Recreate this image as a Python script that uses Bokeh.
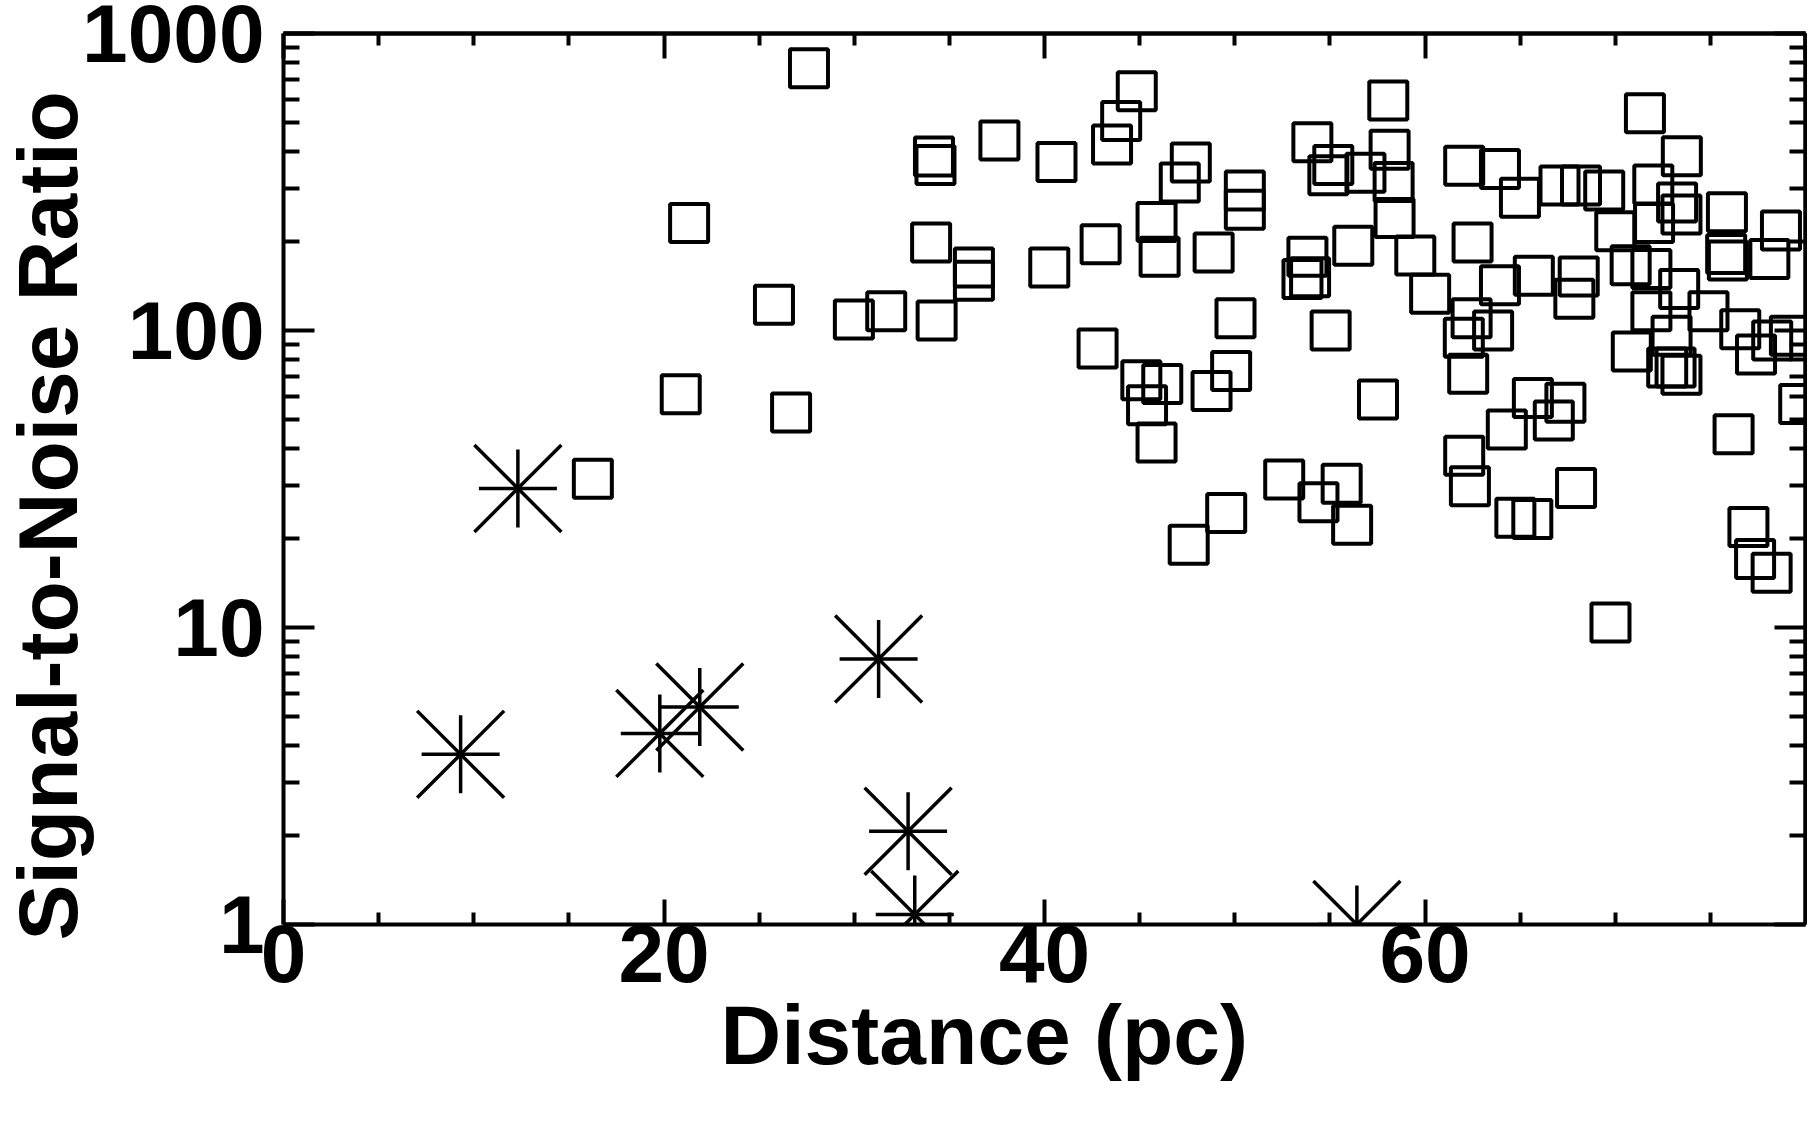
import numpy as np
from bokeh.plotting import figure
from bokeh.models import FixedTicker, LinearAxis, LogAxis, Range1d, Title, NumeralTickFormatter
from bokeh.embed import file_html
from bokeh.resources import INLINE

# ---------------- data ----------------
# detections (open squares): distance (pc), signal-to-noise ratio
sq_dist = [27.62, 21.32, 34.19, 34.27, 37.63, 40.63, 44.85, 44.03, 43.55, 47.69,
           47.11, 45.89, 46.05, 48.89, 34.04, 36.29, 36.29, 40.25, 42.95, 25.78,
           29.98, 31.68, 34.33, 42.79, 45.09, 46.19, 45.39, 45.89, 48.78, 20.88,
           26.68, 16.26, 47.58,
           58.07, 54.08, 58.14, 54.92, 55.18, 56.87, 58.35, 58.40, 50.53, 50.53,
           56.23, 53.82, 53.56, 53.96, 59.49, 60.27, 62.06, 63.94, 64.99, 62.50,
           62.27, 62.04, 62.45, 63.58, 63.94, 50.04, 49.81, 55.04, 57.53, 62.06,
           62.36, 64.30, 52.60, 55.62, 54.40, 56.17, 49.55,
           71.56, 73.50, 67.07, 68.20, 69.42, 70.00, 72.00, 73.25, 73.48, 72.04,
           75.87, 75.83, 75.92, 78.71, 78.10, 70.81, 71.90, 73.36, 71.90, 74.90,
           72.96, 70.87, 72.73, 73.17, 73.48, 76.57, 77.40, 78.25, 79.18, 79.67,
           76.22, 65.67, 67.38, 66.77, 64.75, 65.64, 67.94, 77.00, 77.35, 78.22,
           69.75, 65.72, 67.85, 68.08]
sq_snr = [764, 230, 385, 361, 436, 369, 639, 507, 423, 368,
          315, 232, 177, 183, 198, 163, 147, 163, 195, 122,
          109, 116, 108, 87, 68, 66, 56, 42, 62.5, 61,
          53, 31.7, 19.0,
          595, 430, 406, 333, 361, 340, 316, 239, 296, 255,
          193, 177, 149, 151, 179, 133, 359, 350, 280, 198,
          71.5, 94.5, 110, 100, 142, 110, 73, 100, 58.6, 37.9,
          29.9, 46.4, 31.5, 30.5, 26.4, 22.2, 24.3,
          539, 386, 308, 308, 296, 216, 310, 270, 246, 230,
          250, 181, 172, 217, 174, 166, 161, 138, 116, 116,
          96, 85, 75, 75, 71, 101, 83, 92.5, 96, 56.6,
          44.7, 59.3, 57.1, 49.8, 23.4, 23.2, 29.5, 21.8, 17.0, 15.3,
          10.4, 153, 128, 152]

# asterisks
ast_dist = [9.31, 12.32, 19.78, 21.88, 31.28, 32.83, 33.18, 56.42]
ast_snr = [3.74, 29.4, 4.40, 5.40, 7.83, 2.06, 1.08, 1.00]

x_major = [0, 20, 40, 60]
x_minor = [5, 10, 15, 25, 30, 35, 45, 50, 55, 65, 70, 75]
y_major = [1, 10, 100, 1000]
y_minor = [m * d for d in (1, 10, 100) for m in range(2, 10)]

x_title = "Distance (pc)"
y_title = "Signal-to-Noise Ratio"

FONT = "Liberation Sans"

p = figure(width=1807, height=1109,
           x_range=Range1d(0, 80), y_range=Range1d(1, 1000),
           y_axis_type="log",
           output_backend="svg", toolbar_location=None,
           min_border_left=283, min_border_top=33,
           min_border_right=2, min_border_bottom=185)
p.background_fill_color = "white"
p.border_fill_color = "white"
p.outline_line_color = None
p.grid.visible = False


def style_axis(ax, major_in, minor_in):
    ax.axis_line_color = "black"
    ax.axis_line_width = 4
    ax.major_tick_line_color = "black"
    ax.minor_tick_line_color = "black"
    ax.major_tick_line_width = 4
    ax.minor_tick_line_width = 4
    ax.major_tick_in = major_in
    ax.major_tick_out = 0
    ax.minor_tick_in = minor_in
    ax.minor_tick_out = 0
    ax.axis_label = None


def style_labels(ax, size, standoff):
    ax.major_label_text_font = FONT
    ax.major_label_text_font_style = "bold"
    ax.major_label_text_font_size = size
    ax.major_label_text_color = "black"
    ax.major_label_standoff = standoff


# bottom / left axes with labels
xa = p.xaxis[0]
xa.ticker = FixedTicker(ticks=x_major, minor_ticks=x_minor)
style_axis(xa, 25, 12)
style_labels(xa, "82px", 0)

ya = p.yaxis[0]
ya.ticker = FixedTicker(ticks=y_major, minor_ticks=y_minor)
ya.formatter = NumeralTickFormatter(format="0")
style_axis(ya, 31, 16)
style_labels(ya, "82px", 19)

# top / right: tick marks only (no label texts) -> long and short ticks
for ticks, length in ((x_major + [80], 25), (x_minor, 12)):
    ax = LinearAxis(ticker=FixedTicker(ticks=[], minor_ticks=ticks))
    style_axis(ax, 0, 0)
    ax.minor_tick_in = length
    ax.major_label_standoff = 0
    p.add_layout(ax, "above")
for ticks, length in ((y_major, 31), (y_minor, 16)):
    ax = LogAxis(ticker=FixedTicker(ticks=[], minor_ticks=ticks))
    style_axis(ax, 0, 0)
    ax.minor_tick_in = length
    ax.major_label_standoff = 0
    p.add_layout(ax, "right")

# squares
p.scatter(sq_dist, sq_snr, marker="square", size=38, fill_color=None,
          line_color="black", line_width=4)
# asterisks: plus + diagonal cross
p.scatter(ast_dist, ast_snr, marker="cross", size=78, fill_color=None,
          line_color="black", line_width=3.5)
p.scatter(ast_dist, ast_snr, marker="x", size=123, fill_color=None,
          line_color="black", line_width=3.5)

# axis titles
p.add_layout(Title(text=x_title, align="left", offset=437, standoff=2,
                   vertical_align="bottom", text_font=FONT,
                   text_font_style="bold", text_font_size="84px",
                   text_color="black"), "below")
p.add_layout(Title(text=y_title, align="left", offset=-16, standoff=-30,
                   vertical_align="bottom", text_font=FONT,
                   text_font_style="bold", text_font_size="84px",
                   text_color="black"), "left")

open("out.html", "w").write(file_html(p, INLINE))
